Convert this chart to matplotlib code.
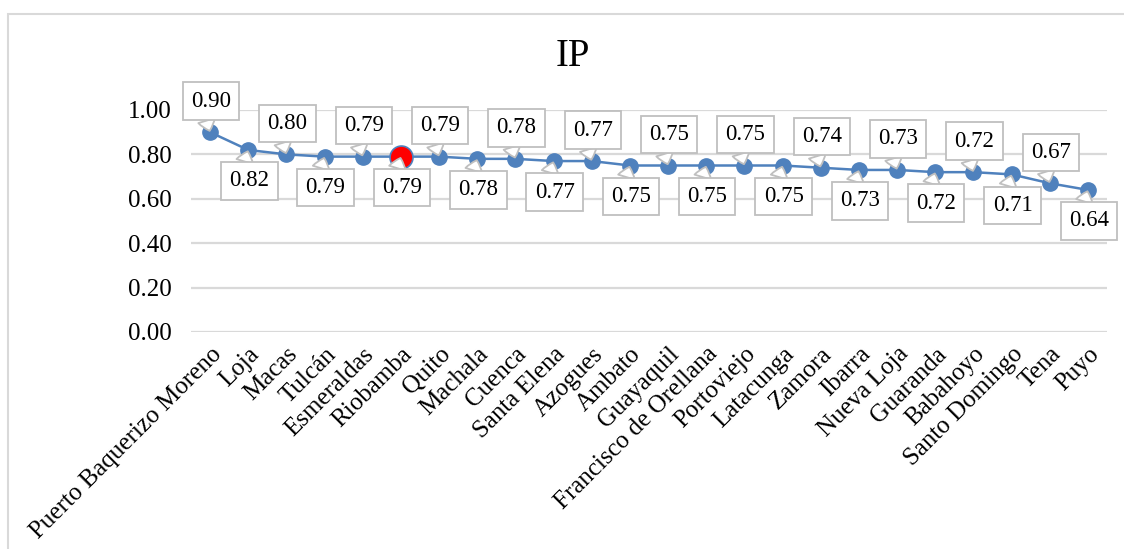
import numpy as np
import matplotlib
matplotlib.use("Agg")
import matplotlib.pyplot as plt
from matplotlib.patches import Rectangle
from matplotlib.ticker import FormatStrFormatter

cities = ["Puerto Baquerizo Moreno", "Loja", "Macas", "Tulcán", "Esmeraldas",
          "Riobamba", "Quito", "Machala", "Cuenca", "Santa Elena", "Azogues",
          "Ambato", "Guayaquil", "Francisco de Orellana", "Portoviejo",
          "Latacunga", "Zamora", "Ibarra", "Nueva Loja", "Guaranda",
          "Babahoyo", "Santo Domingo", "Tena", "Puyo"]
ip = [0.90, 0.82, 0.80, 0.79, 0.79, 0.79, 0.79, 0.78, 0.78, 0.77, 0.77, 0.75,
      0.75, 0.75, 0.75, 0.75, 0.74, 0.73, 0.73, 0.72, 0.72, 0.71, 0.67, 0.64]
highlight = "Riobamba"

BLUE = "#4f81bd"
GRID = "#d9d9d9"
BOX = "#bfbfbf"

plt.rcParams["font.family"] = ["Liberation Serif", "DejaVu Serif"]

W, H = 1124, 549
fig = plt.figure(figsize=(W / 100, H / 100), dpi=100)
# chart frame (Excel chart area border)
fig.patches.append(Rectangle((8 / W, -0.2), 1.2, 0.2 + 1 - 14 / H,
                             transform=fig.transFigure, fill=False,
                             ec=GRID, lw=1.5))

ax = fig.add_axes([191 / W, 1 - 332 / H, 916 / W, 222 / H])
x = np.arange(len(cities))
ax.plot(x, ip, color=BLUE, lw=1.8, marker="o", ms=11, mfc=BLUE, mec=BLUE,
        zorder=2)
hi = cities.index(highlight)
ax.plot(hi, ip[hi], marker="o", ms=16.5, mfc="#ff0000", mec=BLUE, mew=1.2,
        zorder=3)

ax.set_xlim(-0.5, len(cities) - 0.5)
ax.set_ylim(0, 1)
ax.set_yticks(np.arange(0, 1.01, 0.2))
ax.yaxis.set_major_formatter(FormatStrFormatter("%.2f"))
ax.grid(axis="y", color=GRID, lw=1.6)
ax.set_axisbelow(True)
for s in ax.spines.values():
    s.set_visible(False)
ax.tick_params(axis="y", length=0, labelsize=18, pad=14)
ax.tick_params(axis="x", length=0, labelsize=18, pad=8)
ax.set_xticks(x)
ax.set_xticklabels(cities, rotation=45, ha="right", rotation_mode="anchor")

# data labels: alternate above / below like the Excel callouts
for k, v in enumerate(ip):
    above = k % 2 == 0
    dy = 31 if above else -31
    ax.annotate("%.2f" % v, (k, v), xytext=(1, dy), textcoords="offset pixels",
                ha="center", va="center", fontsize=16.5, zorder=4,
                bbox=dict(boxstyle="square,pad=0.36", fc="white", ec=BOX, lw=1.3),
                arrowprops=dict(arrowstyle="wedge,tail_width=0.75,shrink_factor=0.6",
                                fc="white", ec=BOX, lw=1.3, shrinkA=0, shrinkB=1,
                                relpos=(0.32, 0) if above else (0.32, 1)))

fig.text(573 / W, 1 - 56 / H, "IP", fontsize=28, ha="center", va="center")

fig.savefig("out.png", dpi=100)
